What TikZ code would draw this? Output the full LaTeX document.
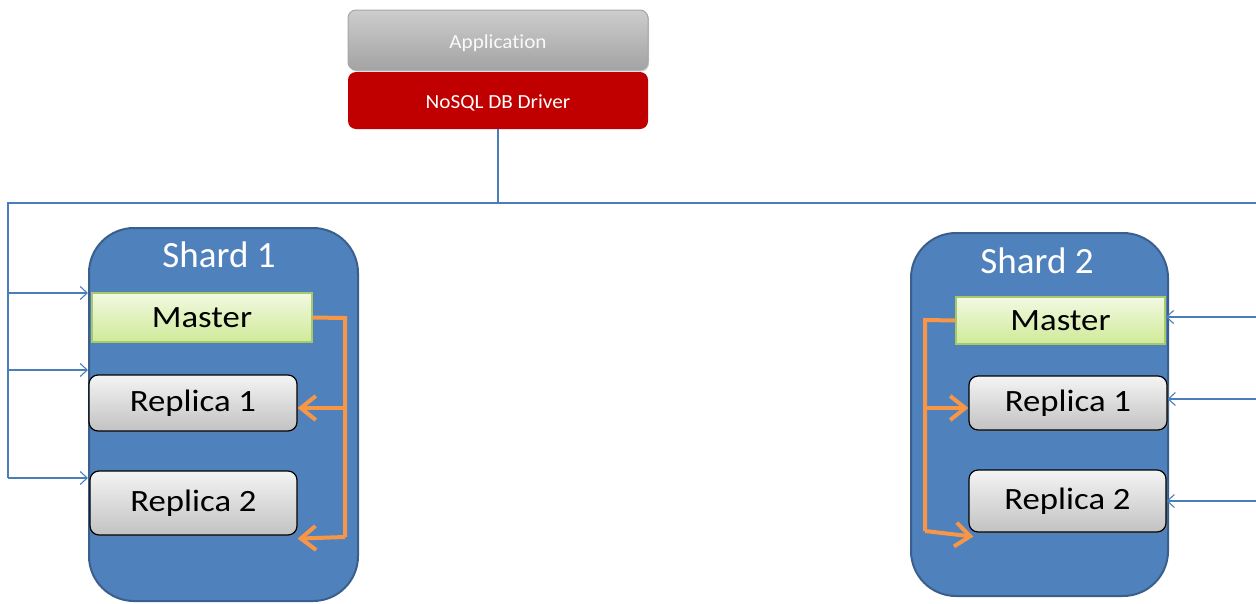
\documentclass[tikz,border=0pt]{standalone}
\usepackage{fontspec}
\setmainfont{Carlito}[Ligatures=NoCommon]
\usetikzlibrary{arrows.meta,shadows}
\definecolor{shardblue}{HTML}{4F81BD}
\definecolor{sharddark}{HTML}{3A5F8C}
\definecolor{linkblue}{HTML}{4A7EBB}
\definecolor{drvred}{HTML}{C00000}
\definecolor{repl}{HTML}{F79646}
\definecolor{greentop}{HTML}{F2F9E2}
\definecolor{greenbot}{HTML}{CFEA98}
\definecolor{greenedge}{HTML}{A6C96A}
\definecolor{graytop}{HTML}{F4F4F4}
\definecolor{graybot}{HTML}{C2C2C2}
\definecolor{apptop}{HTML}{CDCDCD}
\definecolor{appbot}{HTML}{A3A3A3}
\tikzset{
  shardbox/.style={draw=sharddark, line width=2pt, fill=shardblue, rounded corners=45pt, inner sep=0pt},
  shardtitle/.style={text=white, font=\fontsize{37}{37}\selectfont, inner sep=0pt},
  masterbox/.style={draw=greenedge, line width=1.5pt, top color=greentop, bottom color=greenbot, inner sep=0pt, font=\fontsize{31}{31}\selectfont},
  replicabox/.style={draw=black, line width=1.2pt, top color=graytop, bottom color=graybot, rounded corners=9pt, inner sep=0pt, font=\fontsize{31}{31}\selectfont, drop shadow={shadow xshift=1.5pt, shadow yshift=-1.5pt, opacity=0.35}},
  appbox/.style={draw=gray!70, line width=1pt, top color=apptop, bottom color=appbot, rounded corners=8pt, inner sep=0pt, text=white!95!gray, font=\fontsize{20}{20}\selectfont, drop shadow={shadow xshift=1pt, shadow yshift=-1.5pt, opacity=0.4}},
  drvbox/.style={fill=drvred, rounded corners=8pt, inner sep=0pt, text=white, font=\fontsize{20}{20}\selectfont},
  bl/.style={draw=linkblue, line width=1.3pt},
  blarrow/.style={bl, -{Straight Barb[length=7pt,width=13pt,line width=1.1pt]}},
  orl/.style={draw=repl, line width=4pt, line join=miter},
  orarrow/.style={orl, -{Straight Barb[length=15pt,width=24pt]}}
}
\newcommand{\wtxt}[2]{\scalebox{#1}[1]{#2}}
\begin{document}
\begin{tikzpicture}[x=1pt,y=-1pt]
\useasboundingbox (0,0) rectangle (1256,603);
% top boxes
\node[appbox, minimum width=300pt, minimum height=60pt] (app) at (498,40) {\raisebox{-3pt}[\height][\depth]{\wtxt{1.06}{Application}}};
\node[drvbox, minimum width=300pt, minimum height=57pt] (drv) at (498,100.5) {\raisebox{-2pt}[\height][\depth]{\wtxt{1.06}{NoSQL DB Driver}}};
% shards
\node[shardbox, minimum width=269pt, minimum height=373pt] (s1) at (223.5,414.5) {};
\node[shardbox, minimum width=257pt, minimum height=363pt] (s2) at (1039.5,414.5) {};
\node[shardtitle] (t1) at (219,255) {Shard 1};
\node[shardtitle] (t2) at (1037,261) {Shard 2};
% shard 1 members
\node[masterbox, minimum width=220pt, minimum height=49pt] (m1) at (202,317.5) {\wtxt{1.12}{Master}};
\node[replicabox, minimum width=208pt, minimum height=56pt] (ra1) at (193,403) {\wtxt{1.12}{Replica 1}};
\node[replicabox, minimum width=207pt, minimum height=64pt] (ra2) at (193.5,503) {\wtxt{1.12}{Replica 2}};
% shard 2 members
\node[masterbox, minimum width=209pt, minimum height=47pt] (m2) at (1060.5,320.5) {\wtxt{1.12}{Master}};
\node[replicabox, minimum width=198pt, minimum height=54pt] (rb1) at (1068,403) {\wtxt{1.12}{Replica 1}};
\node[replicabox, minimum width=197pt, minimum height=62pt] (rb2) at (1067.5,501) {\wtxt{1.12}{Replica 2}};
% bus coordinates
\coordinate (j) at (498,203);
\coordinate (tl) at (8,203);
\coordinate (tr) at (1256,203);
\coordinate (l1) at (8,293);
\coordinate (l2) at (8,370);
\coordinate (l3) at (8,478);
\coordinate (r1) at (1256,317);
\coordinate (r2) at (1256,399);
\coordinate (r3) at (1256,501);
\draw[bl] (drv.south) -- (j);
\draw[bl] (tr) -- (tl) -- (l3);
\draw[blarrow] (l1) -- (l1 -| s1.west);
\draw[blarrow] (l2) -- (l2 -| s1.west);
\draw[blarrow] (l3) -- (l3 -| s1.west);
\draw[blarrow] (r1) -- (r1 -| m2.east);
\draw[blarrow] (r2) -- (r2 -| rb1.east);
\draw[blarrow] (r3) -- (r3 -| rb2.east);
% replication shard 1
\coordinate (oa) at (345,318);
\coordinate (ob) at (345,408);
\coordinate (oc) at (345,537);
\draw[orl] (m1.east) -- (oa) -- (oc);
\draw[orarrow] (ob) -- (ob -| ra1.east);
\draw[orarrow] (oc) -- ([yshift=-3pt]ra2.south east);
% replication shard 2
\coordinate (pa) at (925,320);
\coordinate (pb) at (925,408);
\coordinate (pc) at (925,531);
\draw[orl] (m2.west) -- (pa) -- (pc);
\draw[orarrow] (pb) -- (pb -| rb1.west);
\draw[orarrow] (pc) -- ([xshift=5pt,yshift=-4pt]rb2.south west);
\end{tikzpicture}
\end{document}
